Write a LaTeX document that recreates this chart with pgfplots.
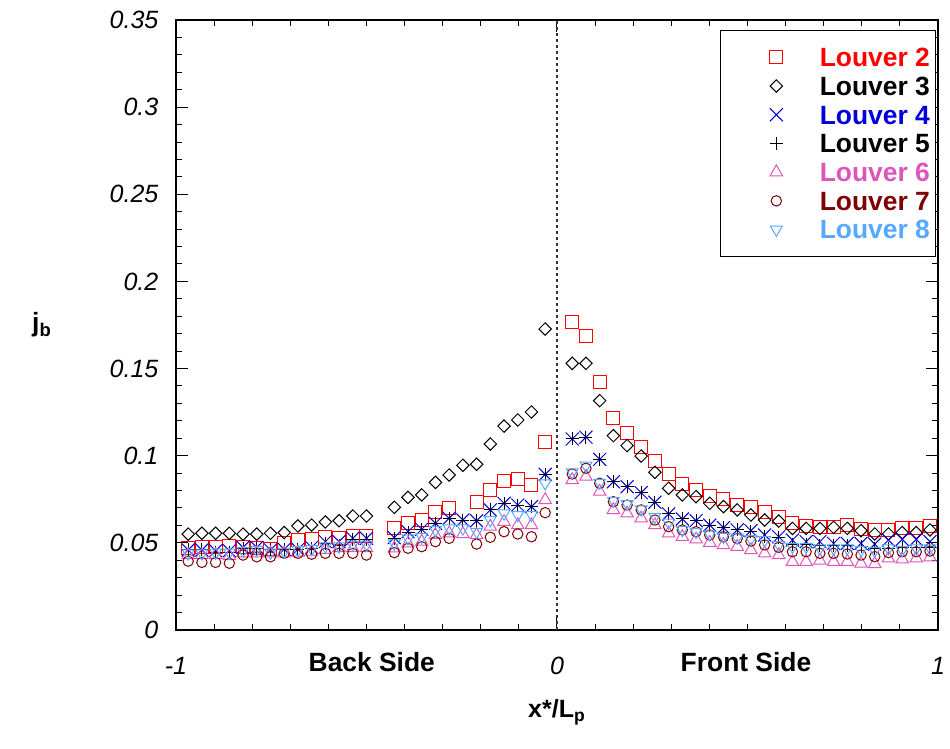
\documentclass[border=0pt]{standalone}
\usepackage{pgfplots}
\pgfplotsset{compat=1.18}
\usepackage{pgfplotstable}
\usepackage{fontspec}
\setmainfont{Liberation Sans}
\definecolor{cLtwo}{RGB}{255,0,0}
\definecolor{cLthree}{RGB}{0,0,0}
\definecolor{cLfour}{RGB}{0,0,220}
\definecolor{cLfive}{RGB}{0,0,0}
\definecolor{cLsix}{RGB}{221,85,187}
\definecolor{cLseven}{RGB}{128,0,0}
\definecolor{cLeight}{RGB}{85,170,255}
\newcommand{\fs}{\fontsize{12.5}{15}\selectfont}
\newcommand{\fl}{\fontsize{13.2}{15}\selectfont}

\pgfplotstableread{
x      L2     L3     L4     L5     L6     L7     L8
-0.968 0.0472 0.0550 0.0459 0.0459 0.0430 0.0395 0.0440
-0.932 0.0476 0.0555 0.0459 0.0459 0.0430 0.0388 0.0440
-0.896 0.0476 0.0555 0.0455 0.0445 0.0430 0.0388 0.0445
-0.860 0.0480 0.0555 0.0455 0.0445 0.0425 0.0383 0.0445
-0.824 0.0476 0.0550 0.0474 0.0468 0.0440 0.0430 0.0455
-0.788 0.0470 0.0550 0.0474 0.0468 0.0440 0.0420 0.0460
-0.752 0.0467 0.0555 0.0459 0.0459 0.0440 0.0420 0.0445
-0.716 0.0497 0.0559 0.0463 0.0463 0.0440 0.0440 0.0450
-0.680 0.0515 0.0597 0.0463 0.0463 0.0445 0.0440 0.0460
-0.644 0.0520 0.0602 0.0474 0.0468 0.0450 0.0435 0.0465
-0.608 0.0532 0.0620 0.0507 0.0497 0.0460 0.0440 0.0480
-0.572 0.0530 0.0627 0.0507 0.0485 0.0470 0.0440 0.0480
-0.536 0.0540 0.0654 0.0526 0.0520 0.0470 0.0440 0.0490
-0.500 0.0540 0.0654 0.0526 0.0520 0.0470 0.0430 0.0490
-0.427 0.0583 0.0704 0.0530 0.0526 0.0469 0.0444 0.0497
-0.391 0.0616 0.0761 0.0564 0.0560 0.0497 0.0469 0.0526
-0.355 0.0631 0.0775 0.0578 0.0575 0.0507 0.0478 0.0535
-0.319 0.0679 0.0847 0.0612 0.0610 0.0545 0.0507 0.0574
-0.283 0.0698 0.0889 0.0641 0.0641 0.0555 0.0526 0.0583
-0.247 nan    0.0945 0.0631 0.0631 0.0551 nan    0.0583
-0.211 0.0736 0.0951 0.0627 0.0627 0.0545 0.0493 0.0564
-0.175 0.0803 0.1067 0.0689 0.0689 0.0593 0.0532 0.0631
-0.139 0.0855 0.1170 0.0727 0.0727 0.0621 0.0564 0.0669
-0.103 0.0865 0.1205 0.0717 0.0717 0.0602 0.0551 0.0660
-0.067 0.0834 0.1251 0.0708 0.0708 0.0602 0.0535 0.0660
-0.031 0.1077 0.1727 0.0893 0.0893 0.0746 0.0673 0.0842
0.040  0.1765 0.1530 0.1096 0.1096 0.0861 0.0895 0.0905
0.076  0.1687 0.1530 0.1106 0.1106 0.0880 0.0928 0.0943
0.112  0.1425 0.1316 0.0979 0.0979 0.0794 0.0842 0.0845
0.148  0.1214 0.1115 0.0851 0.0851 0.0689 0.0736 0.0742
0.184  0.1132 0.1058 0.0822 0.0822 0.0669 0.0717 0.0723
0.221  0.1052 0.0998 0.0788 0.0788 0.0641 0.0689 0.0692
0.257  0.0970 0.0905 0.0733 0.0733 0.0602 0.0631 0.0650
0.293  0.0893 0.0813 0.0666 0.0666 0.0555 0.0593 0.0616
0.329  0.0838 0.0775 0.0637 0.0637 0.0535 0.0574 0.0574
0.365  0.0803 0.0765 0.0627 0.0627 0.0520 0.0564 0.0564
0.401  0.0771 0.0727 0.0602 0.0602 0.0501 0.0545 0.0549
0.437  0.0752 0.0708 0.0587 0.0587 0.0488 0.0535 0.0535
0.473  0.0718 0.0689 0.0574 0.0574 0.0478 0.0525 0.0530
0.509  0.0705 0.0660 0.0570 0.0564 0.0459 0.0510 0.0522
0.545  0.0679 0.0631 0.0545 0.0535 0.0440 0.0488 0.0516
0.582  0.0647 0.0625 0.0535 0.0532 0.0430 0.0474 0.0488
0.618  0.0616 0.0583 0.0516 0.0488 0.0392 0.0449 0.0478
0.654  0.0597 0.0583 0.0507 0.0488 0.0392 0.0449 0.0478
0.690  0.0589 0.0583 0.0507 0.0482 0.0398 0.0440 0.0469
0.726  0.0589 0.0589 0.0497 0.0482 0.0392 0.0440 0.0469
0.762  0.0602 0.0583 0.0497 0.0482 0.0392 0.0436 0.0469
0.798  0.0578 0.0570 0.0497 0.0478 0.0382 0.0430 0.0459
0.834  0.0574 0.0551 0.0493 0.0469 0.0379 0.0421 0.0455
0.870  0.0574 0.0551 0.0516 0.0470 0.0411 0.0444 0.0469
0.906  0.0583 0.0559 0.0520 0.0476 0.0406 0.0449 0.0459
0.943  0.0583 0.0559 0.0520 0.0476 0.0411 0.0449 0.0469
0.979  0.0597 0.0574 0.0507 0.0476 0.0417 0.0453 0.0469
}\jbdata

\begin{document}
\begin{tikzpicture}
\begin{axis}[
  at={(0,0)}, anchor=south west,
  scale only axis, width=381pt, height=305pt,
  xmin=-1, xmax=1, ymin=0, ymax=0.35,
  xtick={-1,0,1}, xticklabels={-1,0,1},
  ytick={0,0.05,0.1,0.15,0.2,0.25,0.3,0.35},
  yticklabels={0,0.05,0.1,0.15,0.2,0.25,0.3,0.35},
  minor x tick num=9, minor y tick num=4,
  tick align=inside,
  major tick length=6pt, minor tick length=3pt,
  every tick/.style={black, line width=0.5pt},
  axis line style={line width=0.8pt},
  tick label style={font=\fs\itshape},
  yticklabel style={xshift=-5.3pt},
  xticklabel style={yshift=-10pt},
  xlabel={x*/L\textsubscript{p}},
  ylabel={j\textsubscript{b}},
  every axis x label/.style={at={(rel axis cs:0.5,0)}, anchor=center, yshift=-41pt, font=\fs\bfseries},
  every axis y label/.style={at={(rel axis cs:0,0.5)}, anchor=center, xshift=-67pt, font=\fl\bfseries},
  legend cell align=left,
  legend image code/.code={\path (0pt,0pt) (46pt,0pt); \draw[mark repeat=1,#1] plot coordinates {(26.5pt,0pt)};},
  legend style={at={(rel axis cs:0.998,0.984)}, anchor=north east, draw=black, line width=0.6pt,
    font=\fl\bfseries, inner xsep=1pt, inner ysep=8.8pt, row sep=4.95pt,
    nodes={inner ysep=0pt, text height=9.4pt, text depth=0pt}},
]
\addplot[forget plot, black!80, dash pattern=on 1.5pt off 1.5pt, line width=0.6pt] coordinates {(0,0) (0,0.35)};
\addplot[only marks, cLtwo, line width=0.5pt, mark=square, mark size=3.25pt] table[x=x,y=L2] {\jbdata};
\addlegendentry{\textcolor{cLtwo}{Louver 2}}
\addplot[only marks, cLthree, line width=0.5pt, mark=square, mark size=2.2pt, mark options={rotate=45}] table[x=x,y=L3] {\jbdata};
\addlegendentry{\textcolor{cLthree}{Louver 3}}
\addplot[only marks, cLfour, line width=0.5pt, mark=x, mark size=4.6pt] table[x=x,y=L4] {\jbdata};
\addlegendentry{\textcolor{cLfour}{Louver 4}}
\addplot[only marks, cLfive, line width=0.5pt, mark=+, mark size=3.25pt] table[x=x,y=L5] {\jbdata};
\addlegendentry{\textcolor{cLfive}{Louver 5}}
\addplot[only marks, cLsix, line width=0.5pt, mark=triangle, mark size=3.6pt] table[x=x,y=L6] {\jbdata};
\addlegendentry{\textcolor{cLsix}{Louver 6}}
\addplot[only marks, cLseven, line width=0.5pt, mark=o, mark size=2.6pt] table[x=x,y=L7] {\jbdata};
\addlegendentry{\textcolor{cLseven}{Louver 7}}
\addplot[only marks, cLeight, line width=0.5pt, mark=triangle, mark size=3.4pt, mark options={rotate=180}] table[x=x,y=L8] {\jbdata};
\addlegendentry{\textcolor{cLeight}{Louver 8}}
\end{axis}
\node[font=\fl\bfseries, anchor=center] at (97.9pt,-16pt) {Back Side};
\node[font=\fl\bfseries, anchor=center] at (285pt,-16pt) {Front Side};
\pgfresetboundingbox
\useasboundingbox (-88pt,-59.5pt) rectangle (387pt,315pt);
\end{tikzpicture}
\end{document}
